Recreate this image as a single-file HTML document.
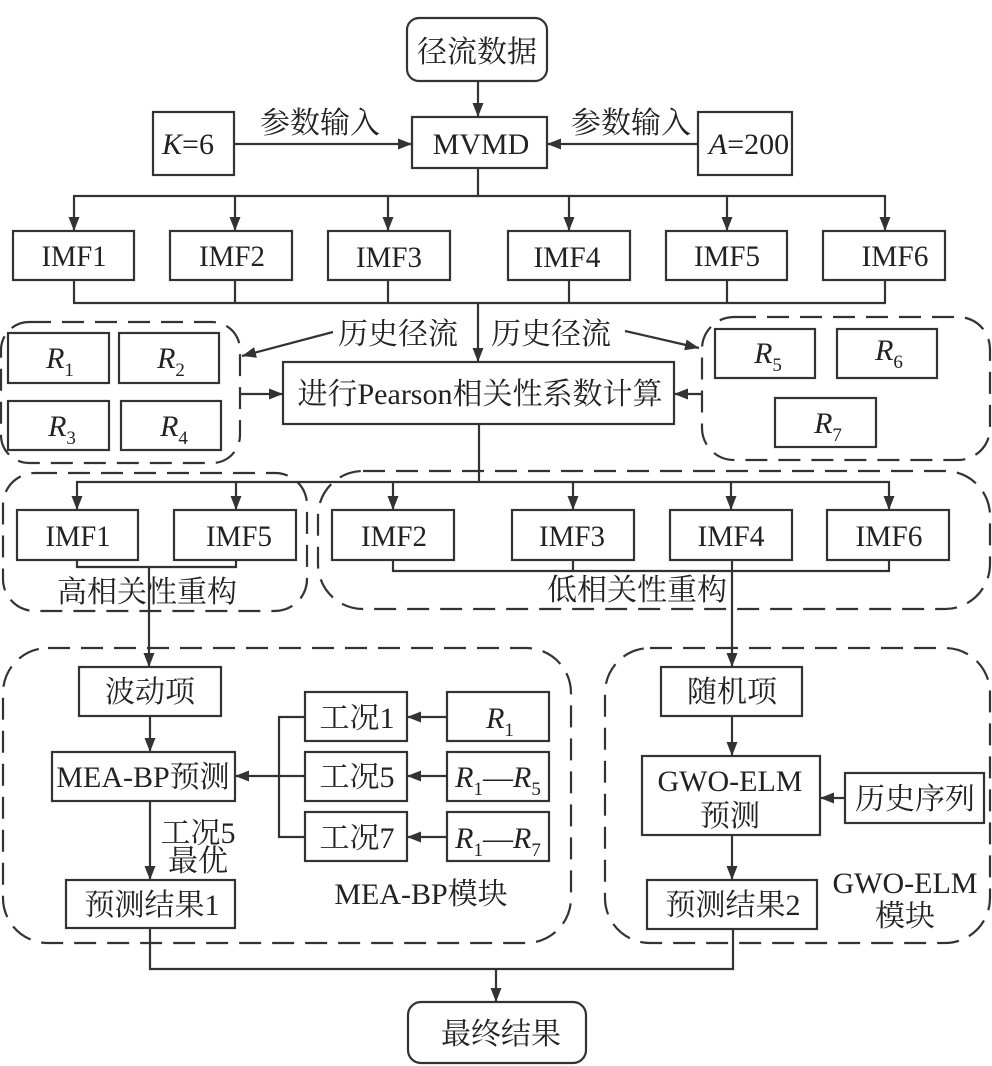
<!DOCTYPE html>
<html>
<head>
<meta charset="utf-8">
<style>
html,body{margin:0;padding:0;background:#fff;}
svg{display:block;}
text{font-family:"Liberation Serif","Noto Serif CJK SC",serif;fill:#222;font-size:30px;}
</style>
</head>
<body>
<svg width="992" height="1066" viewBox="0 0 992 1066" xmlns="http://www.w3.org/2000/svg">
<defs>
<marker id="a" markerUnits="userSpaceOnUse" markerWidth="15" markerHeight="11" refX="14" refY="5.5" orient="auto">
<path d="M0,0 L14,5.5 L0,11 z" fill="#333"/>
</marker>
</defs>

<g fill="none" stroke="#333" stroke-width="2.2" stroke-dasharray="22 11">
<rect x="1" y="322" width="239" height="141" rx="28"/>
<rect x="702" y="317" width="288" height="143" rx="32"/>
<rect x="3" y="473" width="304" height="138" rx="32"/>
<rect x="318" y="471" width="672" height="138" rx="45"/>
<rect x="3" y="648" width="568" height="295" rx="45"/>
<rect x="605" y="648" width="385" height="295" rx="45"/>
</g>

<g fill="none" stroke="#333" stroke-width="2.2">
<!-- top -->
<rect x="407" y="18" width="140" height="63" rx="12"/>
<rect x="412" y="117" width="135" height="51"/>
<rect x="153" y="112" width="81" height="63"/>
<rect x="698" y="112" width="94" height="63"/>
<line x1="478" y1="81" x2="478" y2="117" marker-end="url(#a)"/>
<line x1="234" y1="144" x2="412" y2="144" marker-end="url(#a)"/>
<line x1="698" y1="144" x2="547" y2="144" marker-end="url(#a)"/>
<line x1="478" y1="168" x2="478" y2="196"/>
<line x1="73" y1="196" x2="886" y2="196"/>
<line x1="74" y1="196" x2="74" y2="231" marker-end="url(#a)"/>
<line x1="235" y1="196" x2="235" y2="231" marker-end="url(#a)"/>
<line x1="388" y1="196" x2="388" y2="231" marker-end="url(#a)"/>
<line x1="569" y1="196" x2="569" y2="231" marker-end="url(#a)"/>
<line x1="727" y1="196" x2="727" y2="231" marker-end="url(#a)"/>
<line x1="885" y1="196" x2="885" y2="231" marker-end="url(#a)"/>
<!-- IMF row 1 -->
<rect x="13" y="231" width="121" height="49"/>
<rect x="170" y="231" width="122" height="49"/>
<rect x="328" y="231" width="122" height="49"/>
<rect x="508" y="231" width="122" height="49"/>
<rect x="666" y="231" width="121" height="49"/>
<rect x="823" y="231" width="122" height="49"/>
<line x1="74" y1="280" x2="74" y2="303"/>
<line x1="235" y1="280" x2="235" y2="303"/>
<line x1="388" y1="280" x2="388" y2="303"/>
<line x1="569" y1="280" x2="569" y2="303"/>
<line x1="727" y1="280" x2="727" y2="303"/>
<line x1="885" y1="280" x2="885" y2="303"/>
<line x1="73" y1="303" x2="886" y2="303"/>
<line x1="478" y1="303" x2="478" y2="362" marker-end="url(#a)"/>
<!-- Pearson -->
<rect x="283" y="362" width="391" height="62"/>
<line x1="333" y1="332" x2="242" y2="356" marker-end="url(#a)"/>
<line x1="625" y1="331" x2="699" y2="348" marker-end="url(#a)"/>
<line x1="240" y1="394" x2="283" y2="394" marker-end="url(#a)"/>
<line x1="702" y1="394" x2="674" y2="394" marker-end="url(#a)"/>
<!-- R boxes -->
<rect x="8" y="333" width="101" height="50"/>
<rect x="119" y="333" width="100" height="50"/>
<rect x="8" y="401" width="101" height="49"/>
<rect x="121" y="401" width="100" height="49"/>
<rect x="715" y="329" width="100" height="49"/>
<rect x="837" y="329" width="100" height="49"/>
<rect x="775" y="398" width="101" height="49"/>
<!-- to row 2 -->
<line x1="479" y1="424" x2="479" y2="482"/>
<line x1="76" y1="482" x2="890" y2="482"/>
<line x1="77" y1="482" x2="77" y2="510" marker-end="url(#a)"/>
<line x1="236" y1="482" x2="236" y2="510" marker-end="url(#a)"/>
<line x1="393" y1="482" x2="393" y2="510" marker-end="url(#a)"/>
<line x1="573" y1="482" x2="573" y2="510" marker-end="url(#a)"/>
<line x1="731" y1="482" x2="731" y2="510" marker-end="url(#a)"/>
<line x1="889" y1="482" x2="889" y2="510" marker-end="url(#a)"/>
<rect x="17" y="510" width="121" height="50"/>
<rect x="174" y="510" width="122" height="50"/>
<rect x="332" y="510" width="122" height="50"/>
<rect x="512" y="510" width="122" height="50"/>
<rect x="670" y="510" width="122" height="50"/>
<rect x="827" y="510" width="122" height="50"/>
<polyline points="77,560 77,567 236,567 236,560"/>
<line x1="149" y1="567" x2="149" y2="667" marker-end="url(#a)"/>
<polyline points="393,560 393,571 889,571 889,560"/>
<line x1="573" y1="560" x2="573" y2="571"/>
<line x1="732" y1="560" x2="732" y2="667" marker-end="url(#a)"/>
<!-- MEA-BP module -->
<rect x="79" y="667" width="142" height="49"/>
<line x1="150" y1="716" x2="150" y2="752" marker-end="url(#a)"/>
<rect x="52" y="752" width="183" height="49"/>
<line x1="150" y1="801" x2="150" y2="880" marker-end="url(#a)"/>
<rect x="66" y="880" width="169" height="48"/>
<rect x="305" y="692" width="102" height="49"/>
<rect x="305" y="752" width="102" height="49"/>
<rect x="305" y="812" width="102" height="49"/>
<rect x="447" y="692" width="102" height="49"/>
<rect x="447" y="752" width="102" height="49"/>
<rect x="447" y="812" width="102" height="49"/>
<line x1="447" y1="717" x2="407" y2="717" marker-end="url(#a)"/>
<line x1="447" y1="776" x2="407" y2="776" marker-end="url(#a)"/>
<line x1="447" y1="837" x2="407" y2="837" marker-end="url(#a)"/>
<polyline points="305,717 279,717 279,837 305,837"/>
<line x1="305" y1="776" x2="235" y2="776" marker-end="url(#a)"/>
<!-- GWO module -->
<rect x="661" y="667" width="141" height="49"/>
<line x1="732" y1="716" x2="732" y2="756" marker-end="url(#a)"/>
<rect x="642" y="756" width="178" height="79"/>
<rect x="845" y="773" width="139" height="50"/>
<line x1="845" y1="798" x2="820" y2="798" marker-end="url(#a)"/>
<line x1="732" y1="835" x2="732" y2="880" marker-end="url(#a)"/>
<rect x="647" y="880" width="170" height="49"/>
<!-- bottom -->
<polyline points="150,928 150,969 733,969 733,929"/>
<line x1="496" y1="969" x2="496" y2="1002" marker-end="url(#a)"/>
<rect x="408" y="1002" width="178" height="61" rx="13"/>
</g>

<g text-anchor="middle">
<text x="477" y="62">径流数据</text>
<text x="320" y="133">参数输入</text>
<text x="631" y="133">参数输入</text>
<text x="188" y="154"><tspan font-style="italic">K</tspan>=6</text>
<text x="749" y="154"><tspan font-style="italic">A</tspan>=200</text>
<text x="481" y="154">MVMD</text>
<g font-size="33">
<text x="74" y="266" textLength="65" lengthAdjust="spacingAndGlyphs">IMF1</text>
<text x="232" y="266" textLength="66" lengthAdjust="spacingAndGlyphs">IMF2</text>
<text x="389" y="267" textLength="66" lengthAdjust="spacingAndGlyphs">IMF3</text>
<text x="567" y="267" textLength="67" lengthAdjust="spacingAndGlyphs">IMF4</text>
<text x="727" y="266" textLength="66" lengthAdjust="spacingAndGlyphs">IMF5</text>
<text x="895" y="266" textLength="67" lengthAdjust="spacingAndGlyphs">IMF6</text>
<text x="78" y="546" textLength="65" lengthAdjust="spacingAndGlyphs">IMF1</text>
<text x="239" y="546" textLength="66" lengthAdjust="spacingAndGlyphs">IMF5</text>
<text x="394" y="546" textLength="66" lengthAdjust="spacingAndGlyphs">IMF2</text>
<text x="572" y="546" textLength="66" lengthAdjust="spacingAndGlyphs">IMF3</text>
<text x="731" y="546" textLength="67" lengthAdjust="spacingAndGlyphs">IMF4</text>
<text x="889" y="546" textLength="67" lengthAdjust="spacingAndGlyphs">IMF6</text>
</g>
<text x="398" y="344">历史径流</text>
<text x="551" y="344">历史径流</text>
<text x="480" y="404">进行Pearson相关性系数计算</text>
<text x="60" y="368"><tspan font-style="italic">R</tspan><tspan font-size="19" dy="8">1</tspan></text>
<text x="171" y="368"><tspan font-style="italic">R</tspan><tspan font-size="19" dy="8">2</tspan></text>
<text x="62" y="436"><tspan font-style="italic">R</tspan><tspan font-size="19" dy="8">3</tspan></text>
<text x="174" y="436"><tspan font-style="italic">R</tspan><tspan font-size="19" dy="8">4</tspan></text>
<text x="768" y="363"><tspan font-style="italic">R</tspan><tspan font-size="19" dy="8">5</tspan></text>
<text x="889" y="360"><tspan font-style="italic">R</tspan><tspan font-size="19" dy="8">6</tspan></text>
<text x="828" y="433"><tspan font-style="italic">R</tspan><tspan font-size="19" dy="8">7</tspan></text>
<text x="147" y="602">高相关性重构</text>
<text x="637" y="600">低相关性重构</text>
<text x="150" y="702">波动项</text>
<text x="143" y="787">MEA-BP预测</text>
<text x="198" y="843">工况5</text>
<text x="198" y="871">最优</text>
<text x="152" y="915">预测结果1</text>
<text x="357" y="728">工况1</text>
<text x="357" y="787">工况5</text>
<text x="357" y="848">工况7</text>
<text x="500" y="728"><tspan font-style="italic">R</tspan><tspan font-size="19" dy="8">1</tspan></text>
<text x="498" y="787"><tspan font-style="italic">R</tspan><tspan font-size="19" dy="8">1</tspan><tspan dy="-8">—</tspan><tspan font-style="italic">R</tspan><tspan font-size="19" dy="8">5</tspan></text>
<text x="498" y="848"><tspan font-style="italic">R</tspan><tspan font-size="19" dy="8">1</tspan><tspan dy="-8">—</tspan><tspan font-style="italic">R</tspan><tspan font-size="19" dy="8">7</tspan></text>
<text x="421" y="904">MEA-BP模块</text>
<text x="732" y="702">随机项</text>
<text x="730" y="791">GWO-ELM</text>
<text x="730" y="826">预测</text>
<text x="915" y="809">历史序列</text>
<text x="733" y="915">预测结果2</text>
<text x="905" y="893">GWO-ELM</text>
<text x="905" y="926">模块</text>
<text x="501" y="1044">最终结果</text>
</g>
</svg>
</body>
</html>
